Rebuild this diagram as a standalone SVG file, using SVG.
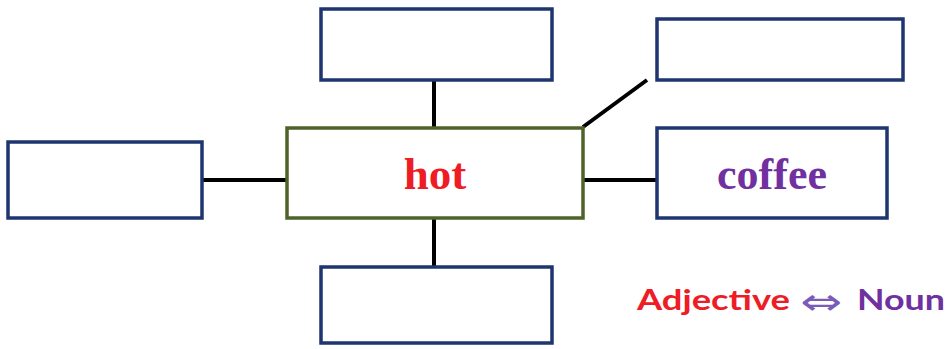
<svg xmlns="http://www.w3.org/2000/svg" width="947" height="349" viewBox="0 0 947 349">
<style>
.box{fill:#fff;stroke:#1f3570;stroke-width:3.5}
.main{fill:#fff;stroke:#4f6228;stroke-width:3.5}
.ln{stroke:#000;stroke-width:4;fill:none}
.tw{font-family:"Liberation Serif","Times New Roman",serif;font-weight:bold;text-anchor:middle}
.lg{font-family:Lato,"Open Sans",sans-serif;font-weight:bold;font-size:28px}
</style>
<rect width="947" height="349" fill="#fff"/>
<g id="connectors">
<line class="ln" x1="434" y1="80" x2="434" y2="128"/>
<line class="ln" x1="434" y1="218" x2="434" y2="267"/>
<line class="ln" x1="202" y1="180" x2="287" y2="180"/>
<line class="ln" x1="583" y1="180" x2="657" y2="180"/>
<line class="ln" x1="583" y1="127" x2="647" y2="80"/>
</g>
<g id="top"><rect class="box" x="321" y="9" width="231" height="71"/></g>
<g id="topright"><rect class="box" x="657" y="19" width="246" height="61"/></g>
<g id="left"><rect class="box" x="8" y="142" width="194" height="76"/></g>
<g id="bottom"><rect class="box" x="321" y="267" width="231" height="76"/></g>
<g id="hot"><rect class="main" x="287" y="128" width="296" height="90"/>
<text class="tw" x="435" y="189" font-size="45" fill="#ee1c25">hot</text></g>
<g id="coffee"><rect class="box" x="657" y="128" width="230" height="90"/>
<text class="tw" x="772" y="189" font-size="44" fill="#7030a0">coffee</text></g>
<g id="legend">
<text class="lg" x="637" y="310" fill="#ee1c25" textLength="153" lengthAdjust="spacingAndGlyphs">Adjective</text>
<text x="800" y="314" font-family="DejaVu Sans,sans-serif" font-size="36" fill="#7a5cb8" textLength="42" lengthAdjust="spacingAndGlyphs">⇔</text>
<text class="lg" x="857" y="310" fill="#7030a0" textLength="88" lengthAdjust="spacingAndGlyphs">Noun</text>
</g>
</svg>
